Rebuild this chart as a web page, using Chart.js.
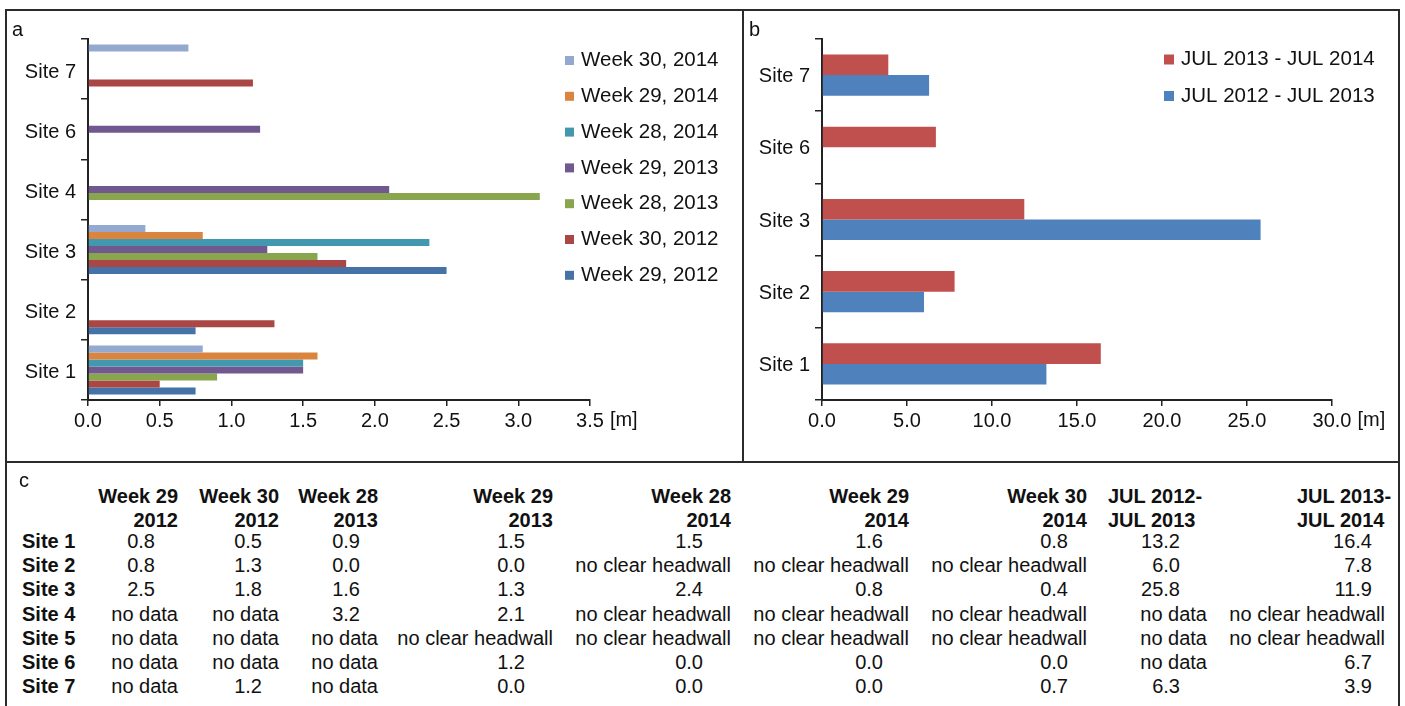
<!DOCTYPE html>
<html>
<head>
<meta charset="utf-8">
<script src="https://cdn.jsdelivr.net/npm/chart.js@4.4.1/dist/chart.umd.min.js"></script>
<style>
  body { margin: 0; background: #fff; font-family: 'Liberation Sans', Arial, sans-serif; color: #111; }
  #fig { position: relative; width: 1405px; height: 706px; overflow: hidden; }
  canvas { position: absolute; }
  .line { position: absolute; background: #2b2b2b; }
  .letter { position: absolute; font-size: 20px; line-height: 20px; }
  .cell { position: absolute; height: 24px; line-height: 24px; font-size: 20px; white-space: nowrap; }
  .b { font-weight: bold; }
</style>
</head>
<body>
<div id="fig">
  <canvas id="chartA" width="742" height="461" style="left:0;top:0"></canvas>
  <canvas id="chartB" width="655" height="461" style="left:744px;top:0"></canvas>
  <div id="table"></div>
  <div class="line" style="left:5px;top:9px;width:1395px;height:2px"></div>
  <div class="line" style="left:5px;top:9px;width:2px;height:700px"></div>
  <div class="line" style="left:1398px;top:9px;width:2px;height:700px"></div>
  <div class="line" style="left:742px;top:9px;width:2px;height:453px"></div>
  <div class="line" style="left:5px;top:461px;width:1395px;height:2px"></div>
  <div class="letter" style="left:12px;top:19px">a</div>
  <div class="letter" style="left:749px;top:19px">b</div>
  <div class="letter" style="left:19px;top:470px">c</div>
</div>
<script>
// panel a: retreat per field campaign
const sitesA = ['Site 7', 'Site 6', 'Site 4', 'Site 3', 'Site 2', 'Site 1'];
const w30_2014 = [0.7, 0.0, null, 0.4, null, 0.8];
const w29_2014 = [0.0, 0.0, null, 0.8, null, 1.6];
const w28_2014 = [0.0, 0.0, null, 2.38, null, 1.5];
const w29_2013 = [0.0, 1.2, 2.1, 1.25, 0.0, 1.5];
const w28_2013 = [null, null, 3.15, 1.6, 0.0, 0.9];
const w30_2012 = [1.15, null, null, 1.8, 1.3, 0.5];
const w29_2012 = [null, null, null, 2.5, 0.75, 0.75];
const ticksA = [0, 0.5, 1, 1.5, 2, 2.5, 3, 3.5];

// panel b: yearly retreat
const sitesB = ['Site 7', 'Site 6', 'Site 3', 'Site 2', 'Site 1'];
const jul13_14 = [3.9, 6.7, 11.9, 7.8, 16.4];
const jul12_13 = [6.3, null, 25.8, 6.0, 13.2];
const ticksB = [0, 5, 10, 15, 20, 25, 30];

// panel c: table
const tableHeads = [
  ['Week 29', '2012'], ['Week 30', '2012'], ['Week 28', '2013'], ['Week 29', '2013'],
  ['Week 28', '2014'], ['Week 29', '2014'], ['Week 30', '2014'],
  ['JUL 2012-', 'JUL 2013'], ['JUL 2013-', 'JUL 2014']
];
const tableSites = ['Site 1', 'Site 2', 'Site 3', 'Site 4', 'Site 5', 'Site 6', 'Site 7'];
const NC = 'no clear headwall', ND = 'no data';
const tableRows = [
  ['0.8', '0.5', '0.9', '1.5', '1.5', '1.6', '0.8', '13.2', '16.4'],
  ['0.8', '1.3', '0.0', '0.0', NC, NC, NC, '6.0', '7.8'],
  ['2.5', '1.8', '1.6', '1.3', '2.4', '0.8', '0.4', '25.8', '11.9'],
  [ND, ND, '3.2', '2.1', NC, NC, NC, ND, NC],
  [ND, ND, ND, NC, NC, NC, NC, ND, NC],
  [ND, ND, ND, '1.2', '0.0', '0.0', '0.0', ND, '6.7'],
  [ND, '1.2', ND, '0.0', '0.0', '0.0', '0.7', '6.3', '3.9']
];

const FONT = "'Liberation Sans', Arial, sans-serif";
const INK = '#111';
const AXIS = '#222';

// legend drawn beside the plot, in dataset order
const sideLegend = {
  id: 'sideLegend',
  afterDraw(chart, args, o) {
    const ctx = chart.ctx;
    ctx.save();
    ctx.font = o.size + 'px ' + FONT;
    ctx.textBaseline = 'middle';
    chart.data.datasets.forEach((ds, i) => {
      const y = o.y + i * o.gap;
      ctx.fillStyle = ds.backgroundColor;
      ctx.fillRect(o.x, y - o.box / 2, o.box, o.box);
      ctx.fillStyle = INK;
      ctx.fillText(ds.label, o.x + o.textGap, y);
    });
    ctx.restore();
  }
};

// "[m]" after the last tick label
const unitLabel = {
  id: 'unitLabel',
  afterDraw(chart) {
    const xs = chart.scales.x;
    const ctx = chart.ctx;
    const last = xs.ticks[xs.ticks.length - 1];
    ctx.save();
    ctx.font = '20px ' + FONT;
    const w = ctx.measureText(last.label).width;
    ctx.fillStyle = INK;
    ctx.textBaseline = 'middle';
    ctx.fillText('[m]', xs.getPixelForValue(last.value) + w / 2 + 6, xs.top + 20);
    ctx.restore();
  }
};

function makeOptions(max, step, yWidth, right, labelShift, legend) {
  return {
    indexAxis: 'y',
    responsive: false,
    animation: false,
    devicePixelRatio: 1,
    layout: { padding: { top: 39, right: right, left: 0, bottom: 0 } },
    plugins: { legend: { display: false }, tooltip: { enabled: false }, sideLegend: legend },
    scales: {
      x: {
        type: 'linear', min: 0, max: max,
        afterFit: s => { s.height = 61; },
        afterBuildTicks: s => { s.ticks = (max === 3.5 ? ticksA : ticksB).map(v => ({ value: v })); },
        ticks: { stepSize: step, color: INK, font: { family: FONT, size: 20 }, padding: 3,
                 callback: v => v.toFixed(1), maxRotation: 0 },
        grid: { drawOnChartArea: false, drawTicks: true, tickLength: 6, color: AXIS, lineWidth: 1.5 },
        border: { display: true, color: AXIS, width: 2 }
      },
      y: {
        afterFit: s => { s.width = yWidth; },
        ticks: { color: INK, font: { family: FONT, size: 20 }, padding: 5, labelOffset: labelShift },
        grid: { offset: true, drawOnChartArea: false, drawTicks: true, tickLength: 7, color: AXIS, lineWidth: 1.5 },
        border: { display: true, color: AXIS, width: 2 }
      }
    }
  };
}

new Chart(document.getElementById('chartA'), {
  type: 'bar',
  data: {
    labels: sitesA,
    datasets: [
      { label: 'Week 30, 2014', data: w30_2014, backgroundColor: '#93A9CF' },
      { label: 'Week 29, 2014', data: w29_2014, backgroundColor: '#DB843D' },
      { label: 'Week 28, 2014', data: w28_2014, backgroundColor: '#4198AF' },
      { label: 'Week 29, 2013', data: w29_2013, backgroundColor: '#71588F' },
      { label: 'Week 28, 2013', data: w28_2013, backgroundColor: '#89A54E' },
      { label: 'Week 30, 2012', data: w30_2012, backgroundColor: '#AA4643' },
      { label: 'Week 29, 2012', data: w29_2012, backgroundColor: '#4572A7' }
    ].map(d => Object.assign(d, { barPercentage: 1, categoryPercentage: 0.815, borderWidth: 0 }))
  },
  options: makeOptions(3.5, 0.5, 88, 152, 3, { x: 565, y: 60.5, gap: 35.8, box: 9, textGap: 16, size: 20.5 }),
  plugins: [sideLegend, unitLabel]
});

new Chart(document.getElementById('chartB'), {
  type: 'bar',
  data: {
    labels: sitesB,
    datasets: [
      { label: 'JUL 2013 - JUL 2014', data: jul13_14, backgroundColor: '#C0504D' },
      { label: 'JUL 2012 - JUL 2013', data: jul12_13, backgroundColor: '#4F81BD' }
    ].map(d => Object.assign(d, { barPercentage: 1, categoryPercentage: 0.57, borderWidth: 0 }))
  },
  options: makeOptions(30, 5, 78, 67, 1.5, { x: 420, y: 59.5, gap: 36.5, box: 10, textGap: 17, size: 20.5 }),
  plugins: [sideLegend, unitLabel]
});

// table (panel c)
const colRight = [178, 279, 378, 553, 731, 909, 1087, 1207, 1385];
const numPad = [23, 17, 18, 28, 28, 26, 19, 27, 13];
const headLeft = { 7: 1108, 8: 1297 };
const headY = [496, 520];
const rowY0 = 541, rowGap = 24.2;
const tbl = document.getElementById('table');
function cell(text, y, opts) {
  const d = document.createElement('div');
  d.className = 'cell' + (opts.bold ? ' b' : '');
  d.textContent = text;
  d.style.top = (y - 12) + 'px';
  if (opts.left !== undefined) d.style.left = opts.left + 'px';
  else { d.style.right = (1405 - opts.right) + 'px'; d.style.textAlign = 'right'; }
  tbl.appendChild(d);
}
tableHeads.forEach((h, c) => {
  h.forEach((t, k) => {
    if (headLeft[c] !== undefined) cell(t, headY[k], { bold: true, left: headLeft[c] });
    else cell(t, headY[k], { bold: true, right: colRight[c] });
  });
});
tableSites.forEach((s, r) => {
  const y = rowY0 + r * rowGap;
  cell(s, y, { bold: true, left: 22 });
  tableRows[r].forEach((t, c) => {
    const isNum = /^[0-9.]+$/.test(t);
    cell(t, y, { right: colRight[c] - (isNum ? numPad[c] : 0) });
  });
});
</script>
</body>
</html>
